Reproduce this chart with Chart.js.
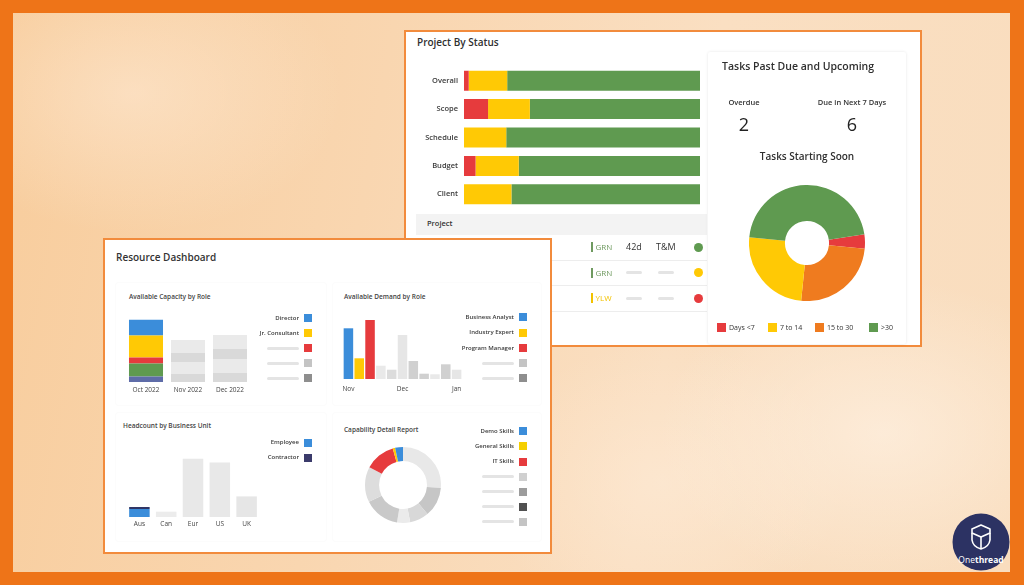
<!DOCTYPE html>
<html><head><meta charset="utf-8">
<script src="https://cdn.jsdelivr.net/npm/chart.js@4.4.1/dist/chart.umd.min.js"></script>
<style>
*{box-sizing:border-box;margin:0;padding:0}
html,body{width:1024px;height:585px;overflow:hidden;background:#EE7418;font-family:'Open Sans',sans-serif;position:relative}
#bg{position:absolute;left:13px;top:13px;width:997px;height:559px;overflow:hidden;
 background:
  radial-gradient(ellipse 300px 200px at 120px 80px, rgba(255,240,225,0.45), rgba(255,240,225,0) 70%),
  radial-gradient(ellipse 320px 220px at 870px 420px, rgba(255,244,232,0.6), rgba(255,244,232,0) 70%),
  radial-gradient(ellipse 260px 200px at 650px 470px, rgba(255,238,220,0.5), rgba(255,238,220,0) 70%),
  linear-gradient(100deg,#F8CD9D 0%,#F9D6B0 35%,#FADFC2 65%,#F9DDBE 100%);}
.a{position:absolute}
.t{position:absolute;white-space:nowrap;line-height:1;color:#333}
canvas{position:absolute}
.panel{position:absolute;background:#fff;border:2px solid #F28B3C}
.card{position:absolute;background:#fff;box-shadow:0 0 3px rgba(0,0,0,0.10);border-radius:2px}
.sq{position:absolute;width:8px;height:8px}
.ph{position:absolute;height:3px;background:#E4E4E4;border-radius:2px;filter:blur(0.7px)}
</style></head>
<body>
<div id="bg">
  <svg class="a" style="left:0;top:0" width="997" height="559">
    <circle cx="968" cy="529" r="28.5" fill="#2C3263"/>
    <g fill="none" stroke="#fff" stroke-width="1.6" stroke-linejoin="round">
      <path d="M959 516 L968 512 L977 516 L977 520 L968 524 L959 520 Z"/>
      <path d="M959 520 L959 527 Q960 534 968 536 Q976 534 977 527 L977 520"/>
      <path d="M968 524 L968 536"/>
    </g>
    <text x="968" y="550" text-anchor="middle" font-family="Open Sans" font-size="8.5" fill="#fff">One<tspan font-weight="700">thread</tspan></text>
  </svg>
</div>

<!-- ===== Top-right panel ===== -->
<div class="panel" style="left:404px;top:30px;width:518px;height:317px"></div>
<div class="t" style="left:417px;top:37px;font-size:10px;font-weight:600;color:#2f2f2f">Project By Status</div>
<canvas id="cStatus" width="296" height="163" style="left:404px;top:56px"></canvas>

<div class="a" style="left:416px;top:214px;width:291px;height:21px;background:#F3F3F3"></div>
<div class="t" style="left:427px;top:220px;font-size:7.5px;font-weight:600;color:#333">Project</div>
<div class="a" style="left:416px;top:260px;width:291px;height:1px;background:#EDEDED"></div>
<div class="a" style="left:416px;top:285px;width:291px;height:1px;background:#EDEDED"></div>
<div class="a" style="left:416px;top:311px;width:291px;height:1px;background:#EDEDED"></div>
<div id="tableRows"></div>

<div class="card" style="left:708px;top:52px;width:198px;height:292px"></div>
<div class="t" style="left:722px;top:61px;font-size:10.5px;font-weight:600;color:#2f2f2f">Tasks Past Due and Upcoming</div>
<div class="t" style="left:704px;width:80px;text-align:center;top:99px;font-size:7.5px;font-weight:600;color:#333">Overdue</div>
<div class="t" style="left:802px;width:100px;text-align:center;top:99px;font-size:7.5px;font-weight:600;color:#333">Due in Next 7 Days</div>
<div class="t" style="left:704px;width:80px;text-align:center;top:115px;font-size:18px;font-weight:400;color:#222" id="overdueVal"></div>
<div class="t" style="left:802px;width:100px;text-align:center;top:115px;font-size:18px;font-weight:400;color:#222" id="dueVal"></div>
<div class="t" style="left:747px;width:120px;text-align:center;top:151px;font-size:10px;font-weight:600;color:#2f2f2f">Tasks Starting Soon</div>
<canvas id="cTasks" width="116" height="116" style="left:749px;top:185px"></canvas>
<div id="taskLegend"></div>

<!-- ===== Left panel ===== -->
<div class="panel" style="left:103px;top:238px;width:449px;height:316px"></div>
<div class="t" style="left:116px;top:252px;font-size:10px;font-weight:600;color:#333">Resource Dashboard</div>
<div class="card" style="left:116px;top:283px;width:210px;height:122px;box-shadow:0 0 2px rgba(0,0,0,0.06)"></div>
<div class="card" style="left:333px;top:283px;width:208px;height:122px;box-shadow:0 0 2px rgba(0,0,0,0.06)"></div>
<div class="card" style="left:116px;top:413px;width:210px;height:128px;box-shadow:0 0 2px rgba(0,0,0,0.06)"></div>
<div class="card" style="left:333px;top:413px;width:208px;height:128px;box-shadow:0 0 2px rgba(0,0,0,0.06)"></div>

<div class="t" style="left:129px;top:294px;font-size:6.5px;font-weight:600;color:#444">Available Capacity by Role</div>
<div class="t" style="left:344px;top:294px;font-size:6.5px;font-weight:600;color:#444">Available Demand by Role</div>
<div class="t" style="left:123px;top:423px;font-size:6.5px;font-weight:600;color:#444">Headcount by Business Unit</div>
<div class="t" style="left:344px;top:427px;font-size:6.5px;font-weight:600;color:#444">Capability Detail Report</div>

<canvas id="cCap" width="146" height="86" style="left:115px;top:312px"></canvas>
<canvas id="cDem" width="139" height="76" style="left:333px;top:319px"></canvas>
<canvas id="cHead" width="154" height="76" style="left:116px;top:457px"></canvas>
<canvas id="cSkill" width="76" height="76" style="left:365px;top:447px"></canvas>
<div id="legends"></div>

<script>
// ---------- DATA ----------
const statusCategories = ['Overall','Scope','Schedule','Budget','Client'];
const statusRed    = [2.0, 10.2, 0, 4.9, 0];
const statusYellow = [16.3, 17.7, 17.9, 18.3, 20.1];
const statusGreen  = [81.7, 72.1, 82.1, 76.8, 79.9];

const overdueCount = 2;
const dueNext7Count = 6;

const taskLabels = ['Days <7','7 to 14','15 to 30','>30'];
const taskValues = [4, 25, 25, 46];

const capacityMonths = ['Oct 2022','Nov 2022','Dec 2022'];
const capDirector = [15.7, 13, 14];
const capJrConsultant = [22, 9, 10];
const capRole3 = [6, 0, 0];
const capRole4 = [13, 12, 14];
const capRole5 = [5.6, 8, 9];
const capacityLegendLabels = ['Director','Jr. Consultant','','',''];

const demandLabels = ['Nov','','','','','Dec','','','','','Jan'];
const demandValues = [50.7, 20.7, 59, 13.3, 9.3, 44, 18, 5.3, 4.7, 14.7, 9.3];
const demandLegendLabels = ['Business Analyst','Industry Expert','Program Manager','',''];

const headcountUnits = ['Aus','Can','Eur','US','UK'];
const headcountEmployee = [8, 5.3, 58.3, 54.6, 20.6];
const headcountContractor = [2, 0, 0, 0, 0];
const headcountLegendLabels = ['Employee','Contractor'];

const skillSliceValues = [26, 12.5, 8, 5.5, 15, 14.9, 12.8, 1, 3.3];
const skillLegendLabels = ['Demo Skills','General Skills','IT Skills','','','',''];

const tableStatus = ['GRN','GRN','YLW'];
const tableDuration = ['42d','',''];
const tableType = ['T&M','',''];

// ---------- STYLES ----------
const RED='#E63B3D', YEL='#FFC905', GRN='#5F9A50', ORG='#EF7B1F', BLU='#3B8DDA', NAVY='#5E6CA8';
const taskColors = [RED, YEL, ORG, GRN];
const taskDrawOrder = [0, 2, 1, 3];
const LG='#EAEAEA', DG='#D9D9D9';

Chart.defaults.animation = false;
Chart.defaults.font.family = "'Open Sans', sans-serif";
Chart.defaults.plugins.legend.display = false;
Chart.defaults.plugins.tooltip.enabled = false;
Chart.defaults.responsive = false;
Chart.defaults.maintainAspectRatio = false;
Chart.defaults.devicePixelRatio = 1;

const noGrid = {display:false, drawTicks:false};

// Project By Status
new Chart(document.getElementById('cStatus'), {
  type:'bar',
  data:{labels:statusCategories, datasets:[
    {data:statusRed, backgroundColor:RED, borderWidth:0, categoryPercentage:1, barPercentage:0.704},
    {data:statusYellow, backgroundColor:YEL, borderWidth:0, categoryPercentage:1, barPercentage:0.704},
    {data:statusGreen, backgroundColor:GRN, borderWidth:0, categoryPercentage:1, barPercentage:0.704}]},
  options:{indexAxis:'y', layout:{padding:0},
    scales:{
      x:{stacked:true, min:0, max:100, display:false},
      y:{stacked:true, grid:noGrid, border:{display:false},
         ticks:{padding:6, color:'#3a3a3a', font:{size:7.5, weight:'600'}},
         afterFit:s=>{s.width=60;}}}}
});

// Tasks donut
new Chart(document.getElementById('cTasks'), {
  type:'doughnut',
  data:{labels:taskDrawOrder.map(i=>taskLabels[i]),
    datasets:[{data:taskDrawOrder.map(i=>taskValues[i]), backgroundColor:taskDrawOrder.map(i=>taskColors[i]),
      borderWidth:0, hoverOffset:0, offset:0}]},
  options:{rotation:81.4, cutout:'38%', layout:{padding:0}}
});

// Capacity stacked bars
const capColors = [
  [NAVY, DG, DG], [GRN, LG, LG], [RED, DG, DG], [YEL, DG, DG], [BLU, LG, LG]];
const capSeries = [capRole5, capRole4, capRole3, capJrConsultant, capDirector];
new Chart(document.getElementById('cCap'), {
  type:'bar',
  data:{labels:capacityMonths, datasets:capSeries.map((d,i)=>({data:d, backgroundColor:capColors[i], borderWidth:0, categoryPercentage:1, barPercentage:0.81}))},
  options:{layout:{padding:{left:10,right:10,top:0,bottom:0}},
    scales:{
      x:{stacked:true, grid:noGrid, border:{display:false}, ticks:{padding:4.5, color:'#444', font:{size:6.5}}, afterFit:s=>{s.height=16;}},
      y:{stacked:true, display:false, min:0, max:70}}}
});

// Demand bars
const demColors = [BLU, YEL, RED, '#E9E9E9', '#DCDCDC', '#E6E6E6', '#D0D0D0', '#D0D0D0', '#E9E9E9', '#D0D0D0', '#E6E6E6'];
new Chart(document.getElementById('cDem'), {
  type:'bar',
  data:{labels:demandLabels, datasets:[{data:demandValues, backgroundColor:demColors, borderWidth:0, categoryPercentage:1, barPercentage:0.88}]},
  options:{layout:{padding:{left:10,right:10,top:0,bottom:0}},
    scales:{
      x:{grid:noGrid, border:{display:false}, ticks:{padding:6.5, color:'#444', font:{size:6.5}, autoSkip:false, maxRotation:0}, afterFit:s=>{s.height=16;}},
      y:{display:false, min:0, max:60}}}
});

// Headcount
new Chart(document.getElementById('cHead'), {
  type:'bar',
  data:{labels:headcountUnits, datasets:[
    {data:headcountEmployee, backgroundColor:[BLU,'#ECECEC','#E8E8E8','#E8E8E8','#E6E6E6'], borderWidth:0, categoryPercentage:1, barPercentage:0.765},
    {data:headcountContractor, backgroundColor:'#2F3566', borderWidth:0, categoryPercentage:1, barPercentage:0.765}]},
  options:{layout:{padding:{left:10,right:10,top:0,bottom:0}},
    scales:{
      x:{stacked:true, grid:noGrid, border:{display:false}, ticks:{padding:3.5, color:'#444', font:{size:6.5}}, afterFit:s=>{s.height=16;}},
      y:{stacked:true, display:false, min:0, max:60}}}
});

// Capability donut
const skillColors = ['#E8E8E8','#C6C6C6','#D8D8D8','#EBEBEB','#C9C9C9','#DDDDDD', RED, YEL, BLU];
new Chart(document.getElementById('cSkill'), {
  type:'doughnut',
  data:{labels:skillSliceValues.map((v,i)=>String(i)), datasets:[{data:skillSliceValues, backgroundColor:skillColors, borderWidth:0, hoverOffset:0, offset:0}]},
  options:{rotation:0, cutout:'63%', layout:{padding:0}}
});

// ---------- HTML text / legends ----------
document.getElementById('overdueVal').textContent = overdueCount;
document.getElementById('dueVal').textContent = dueNext7Count;

let h = '';
const taskLegendX = [717, 768, 815, 869];
taskLabels.forEach((lab,i)=>{
  h += `<div class="a" style="left:${taskLegendX[i]}px;top:323px;width:9px;height:9px;background:${taskColors[i]}"></div>`;
  h += `<div class="t" style="left:${taskLegendX[i]+12}px;top:324px;font-size:7px;color:#333">${lab.replace('<','&lt;')}</div>`;
});
document.getElementById('taskLegend').innerHTML = h;

h = '';
const rowY = [247, 272.5, 298];
const dotColors = [GRN, YEL, RED];
tableStatus.forEach((s,i)=>{
  const c = s==='YLW' ? '#F2C200' : '#6F9A60';
  h += `<div class="a" style="left:591px;top:${rowY[i]-5}px;width:1.5px;height:10px;background:${c}"></div>`;
  h += `<div class="t" style="left:595.5px;top:${rowY[i]-4}px;font-size:8px;color:${c}">${s}</div>`;
  if (tableDuration[i]) h += `<div class="t" style="left:626px;top:${rowY[i]-5}px;font-size:9px;color:#333">${tableDuration[i]}</div>`;
  else h += `<div class="ph" style="left:626px;top:${rowY[i]-1.5}px;width:16px"></div>`;
  if (tableType[i]) h += `<div class="t" style="left:656px;top:${rowY[i]-5}px;font-size:9px;color:#333">${tableType[i].replace('&','&amp;')}</div>`;
  else h += `<div class="ph" style="left:658px;top:${rowY[i]-1.5}px;width:16px"></div>`;
  h += `<div class="a" style="left:693.5px;top:${rowY[i]-4.5}px;width:9px;height:9px;border-radius:50%;background:${dotColors[i]}"></div>`;
});
document.getElementById('tableRows').innerHTML = h;

h = '';
function legend(labels, colors, sqX, y0, step, textRight, phLeft){
  labels.forEach((lab,i)=>{
    const y = y0 + i*step;
    h += `<div class="sq" style="left:${sqX}px;top:${y-4}px;background:${colors[i]}"></div>`;
    if (lab) h += `<div class="t" style="right:${1024-textRight}px;top:${y-3.3}px;font-size:6px;font-weight:600;color:#3a3a3a">${lab}</div>`;
    else h += `<div class="ph" style="left:${phLeft}px;top:${y-1.5}px;width:${textRight-phLeft}px"></div>`;
  });
}
legend(capacityLegendLabels, [BLU, YEL, RED, '#C4C4C4', '#8E8E8E'], 304, 318, 15, 299, 267);
legend(demandLegendLabels, [BLU, YEL, RED, '#C4C4C4', '#8E8E8E'], 519, 317.3, 15.25, 514, 482);
legend(headcountLegendLabels, [BLU, '#3B3B6B'], 304, 442.7, 15, 299, 267);
legend(skillLegendLabels, [BLU, '#F5CF00', RED, '#D0D0D0', '#9C9C9C', '#505050', '#C4C4C4'], 519, 431.3, 15.1, 514, 482);
document.getElementById('legends').innerHTML = h;
</script>
</body></html>
